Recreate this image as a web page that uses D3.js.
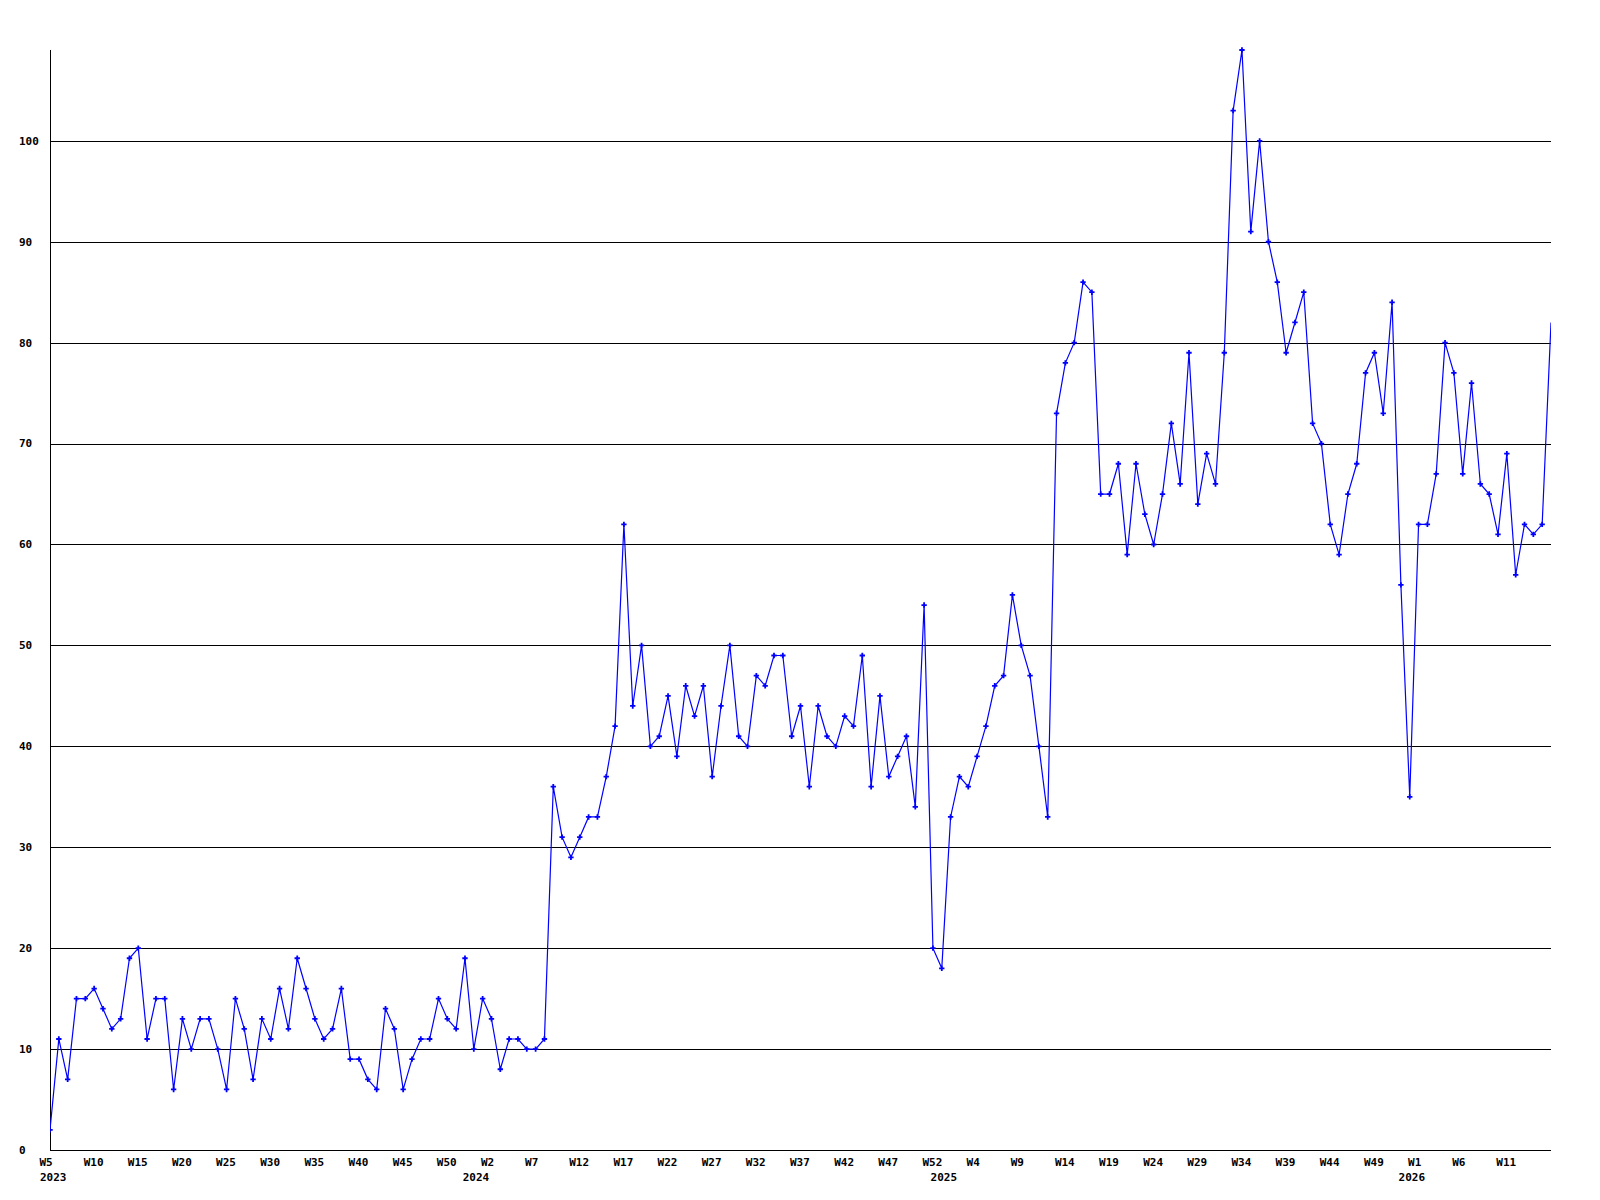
<!DOCTYPE html>
<html>
<head>
<meta charset="utf-8">
<script src="https://cdn.jsdelivr.net/npm/d3@7/dist/d3.min.js"></script>
<style>
  html, body { margin: 0; padding: 0; background: #fff; }
  svg { display: block; }
  text { font-family: "DejaVu Sans Mono", "Liberation Mono", monospace; font-weight: bold; font-size: 11px; fill: #000; }
</style>
</head>
<body>
<script>
// ---- data ----
const years = [2023, 2024, 2025, 2026];
const firstWeek = [5, 1, 1, 1];
const lastWeek = [53, 53, 53, 16];

const values2023 = [2, 11, 7, 15, 15, 16, 14, 12, 13, 19, 20, 11, 15, 15, 6, 13, 10, 13, 13, 10, 6, 15, 12, 7, 13, 11, 16, 12, 19, 16, 13, 11, 12, 16, 9, 9, 7, 6, 14, 12, 6, 9, 11, 11, 15, 13, 12, 19, 10];
const values2024 = [15, 13, 8, 11, 11, 10, 10, 11, 36, 31, 29, 31, 33, 33, 37, 42, 62, 44, 50, 40, 41, 45, 39, 46, 43, 46, 37, 44, 50, 41, 40, 47, 46, 49, 49, 41, 44, 36, 44, 41, 40, 43, 42, 49, 36, 45, 37, 39, 41, 34, 54, 20, 18];
const values2025 = [33, 37, 36, 39, 42, 46, 47, 55, 50, 47, 40, 33, 73, 78, 80, 86, 85, 65, 65, 68, 59, 68, 63, 60, 65, 72, 66, 79, 64, 69, 66, 79, 103, 109, 91, 100, 90, 86, 79, 82, 85, 72, 70, 62, 59, 65, 68, 77, 79, 73, 84, 56, 35];
const values2026 = [62, 62, 67, 80, 77, 67, 76, 66, 65, 61, 69, 57, 62, 61, 62, 82];
const yTicks = [0, 10, 20, 30, 40, 50, 60, 70, 80, 90, 100];
const labelEvery = 5;

(function () {
  // build category list
  const seriesByYear = [values2023, values2024, values2025, values2026];
  const data = [];
  years.forEach((yr, yi) => {
    for (let w = firstWeek[yi], k = 0; w <= lastWeek[yi]; w++, k++) {
      data.push({ year: yr, week: w, label: "W" + w, value: seriesByYear[yi][k] });
    }
  });

  // ---- layout ----
  const W = 1600, H = 1200;
  const mLeft = 50, mRight = 1551, mTop = 50, mBottom = 1150;

  const svg = d3.select("body").append("svg").attr("width", W).attr("height", H);

  const x = d3.scaleLinear().domain([0, data.length - 1]).range([mLeft, mRight]);
  const y = d3.scaleLinear().domain([0, 109]).range([mBottom, mTop]);

  // grid lines
  svg.append("g").selectAll("line").data(yTicks.filter(d => d > 0)).join("line")
    .attr("x1", mLeft).attr("x2", mRight)
    .attr("y1", d => Math.round(y(d)) + 0.5).attr("y2", d => Math.round(y(d)) + 0.5)
    .attr("stroke", "#000").attr("stroke-width", 1).attr("shape-rendering", "crispEdges");

  // axis lines
  svg.append("line").attr("x1", mLeft + 0.5).attr("x2", mLeft + 0.5).attr("y1", mTop).attr("y2", mBottom)
    .attr("stroke", "#000").attr("shape-rendering", "crispEdges");
  svg.append("line").attr("x1", mLeft).attr("x2", mRight).attr("y1", mBottom + 0.5).attr("y2", mBottom + 0.5)
    .attr("stroke", "#000").attr("shape-rendering", "crispEdges");

  // y labels (left aligned)
  svg.append("g").selectAll("text").data(yTicks).join("text")
    .attr("x", 19).attr("y", d => y(d)).attr("dy", "0.35em")
    .text(d => d);

  // x labels (every 5th week, not on the final clipped point)
  const xl = svg.append("g");
  data.forEach((d, i) => {
    if (i % labelEvery === 0 && i < data.length - 1) {
      xl.append("text").attr("x", x(i) - 10.5).attr("y", 1166).text(d.label);
    }
  });
  // year labels
  years.forEach((yr, yi) => {
    const idx = data.findIndex(d => d.year === yr);
    const xp = yi === 0 ? x(idx) - 10 : x(idx) - 20;
    xl.append("text").attr("x", xp).attr("y", 1181).text(yr);
  });

  // clip
  svg.append("clipPath").attr("id", "plotclip").append("rect")
    .attr("x", mLeft).attr("y", 0).attr("width", mRight - mLeft).attr("height", mBottom + 5);

  const plot = svg.append("g").attr("clip-path", "url(#plotclip)");

  const line = d3.line().x((d, i) => x(i)).y(d => y(d.value));
  plot.append("path").datum(data).attr("d", line)
    .attr("fill", "none").attr("stroke", "#0000ff").attr("stroke-width", 1.2);

  const sym = d3.symbol().type(d3.symbolCross).size(16);
  plot.append("g").selectAll("path").data(data.slice(0, data.length - 1)).join("path")
    .attr("transform", (d, i) => `translate(${x(i)},${y(d.value)})`)
    .attr("d", sym).attr("fill", "#0000ff");
})();
</script>
</body>
</html>
